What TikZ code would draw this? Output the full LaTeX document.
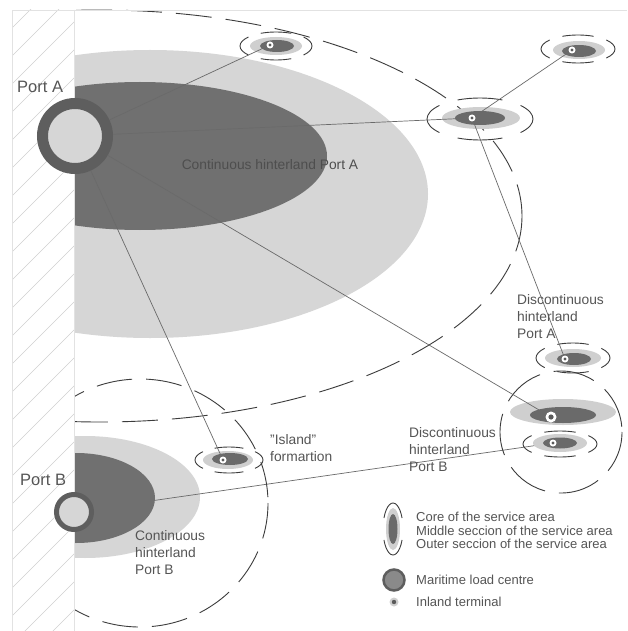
\documentclass[tikz,border=0pt]{standalone}
\usepackage{fontspec}
\setmainfont{Liberation Sans}
\usetikzlibrary{shapes.geometric}
\definecolor{lightfill}{HTML}{D6D6D6}
\definecolor{darkfill}{HTML}{707070}
\definecolor{ringcol}{HTML}{5E5E5E}
\definecolor{textcol}{HTML}{555555}
\definecolor{intext}{HTML}{4E4E4E}
\definecolor{dashcol}{HTML}{3C3C3C}
\definecolor{linecol}{HTML}{6A6A6A}
\definecolor{hatchcol}{HTML}{D0D0D0}
\definecolor{framecol}{HTML}{E2E2E2}
\definecolor{midfill}{HTML}{CFCFCF}
\definecolor{corefill}{HTML}{6A6A6A}
\definecolor{dotcol}{HTML}{5A5A5A}
\definecolor{legfill}{HTML}{8A8A8A}
\tikzset{
  dashline/.style={draw=dashcol, line width=0.9pt, dash pattern=on 36pt off 14pt},
  ringline/.style={draw=dashcol, line width=0.9pt},
  conn/.style={draw=linecol, line width=0.7pt},
  terminal/.style={circle, fill=white, inner sep=0pt, minimum size=7pt,
    path picture={\fill[dotcol] (path picture bounding box.center) circle (1.6pt);}},
  bigterminal/.style={circle, fill=white, inner sep=0pt, minimum size=11pt,
    path picture={\fill[dotcol] (path picture bounding box.center) circle (2.6pt);}},
  lbl/.style={text=textcol, inner sep=0pt, font=\fontsize{13.8}{17}\selectfont, align=left},
  portlbl/.style={text=textcol, inner sep=0pt, font=\fontsize{16.5}{19}\selectfont},
  leglbl/.style={text=textcol, inner sep=0pt, font=\fontsize{13}{13.5}\selectfont, align=left},
  hatchline/.style={draw=hatchcol, line width=0.6pt},
}
\newcommand{\ringarcs}[4]{%
  \draw[ringline] (#1,#2) ++(140:#3 and #4) arc[start angle=140,end angle=220,x radius=#3,y radius=#4];
  \draw[ringline] (#1,#2) ++(-40:#3 and #4) arc[start angle=-40,end angle=40,x radius=#3,y radius=#4];
  \draw[ringline] (#1,#2) ++(65:#3 and #4) arc[start angle=65,end angle=115,x radius=#3,y radius=#4];
  \draw[ringline] (#1,#2) ++(245:#3 and #4) arc[start angle=245,end angle=295,x radius=#3,y radius=#4];
}
\begin{document}
\begin{tikzpicture}[x=1pt,y=-1pt]
\useasboundingbox (0,0) rectangle (627,631);
\fill[white] (0,0) rectangle (627,631);
\coordinate (pbc) at (74,512);
\coordinate (t6c) at (553,443);
\begin{scope}
  \clip (74,0) rectangle (627,631);
  % Port A continuous hinterland
  \fill[lightfill] (150,194) ellipse [x radius=278, y radius=144];
  \fill[darkfill] (140,156) ellipse [x radius=187, y radius=74];
  % Port B continuous hinterland
  \fill[lightfill] (85,497) ellipse [x radius=115, y radius=61];
  \draw[conn] (pbc) -- (t6c);
  \fill[darkfill] (76,498) ellipse [x radius=79, y radius=45];
  % big dashed areas
  \draw[dashline] (100,216) ellipse [x radius=422, y radius=206];
  \draw[dashline] (140,503) ellipse [x radius=128, y radius=124];
\end{scope}
\draw[dashline, dash pattern=on 42pt off 14pt] (561,432) ellipse [x radius=61, y radius=61];
% coast strip
\begin{scope}
  \clip (12,10) rectangle (74,631);
  \foreach \k in {0,...,26} \draw[hatchline] (12,\k*28) -- ++(70,-70);
\end{scope}
\draw[framecol, line width=0.8pt] (12,631) -- (12,10) -- (627,10);
\draw[framecol, line width=0.8pt] (74,10) -- (74,631);
% service areas
\ringarcs{276}{46}{36}{14}
\fill[midfill] (276,46) ellipse [x radius=26, y radius=9];
\fill[corefill] (277,46) ellipse [x radius=17, y radius=6];
\ringarcs{578}{49}{37}{14}
\fill[midfill] (579,50) ellipse [x radius=26, y radius=9];
\fill[corefill] (579,51) ellipse [x radius=17, y radius=6];
\ringarcs{480}{119}{53}{21}
\fill[midfill] (481,118) ellipse [x radius=39, y radius=11];
\fill[corefill] (480,118) ellipse [x radius=25, y radius=7];
\ringarcs{573}{358}{37}{15}
\fill[midfill] (573,358) ellipse [x radius=28, y radius=9];
\fill[corefill] (574,359) ellipse [x radius=17, y radius=6];
\fill[midfill] (563,412) ellipse [x radius=53, y radius=13];
\fill[corefill] (563,415) ellipse [x radius=33, y radius=8];
\ringarcs{560}{444}{37}{13}
\fill[midfill] (560,443) ellipse [x radius=27, y radius=9];
\fill[corefill] (560,443) ellipse [x radius=17, y radius=5.5];
\ringarcs{229}{460}{34}{13}
\fill[midfill] (228,460) ellipse [x radius=25, y radius=9];
\fill[corefill] (230,459) ellipse [x radius=18, y radius=6];
% ports
\node[circle, draw=ringcol, line width=11pt, fill=lightfill, minimum size=65pt, inner sep=0pt] (pa) at (75,136) {};
\node[circle, draw=ringcol, line width=5pt, fill=lightfill, minimum size=35pt, inner sep=0pt] (pb) at (pbc) {};
% terminals
\node[terminal] (t1) at (270,45) {};
\node[terminal] (t2) at (572,50) {};
\node[terminal] (t3) at (472,118) {};
\node[terminal] (t4) at (565,359) {};
\node[bigterminal] (t5) at (551,417) {};
\node[terminal] (t6) at (t6c) {};
\node[terminal] (t7) at (223,460) {};
% connectors
\draw[conn] (pa) -- (t1);
\draw[conn] (pa) -- (t3);
\draw[conn] (pa) -- (t5);
\draw[conn] (pa) -- (t7);
\draw[conn] (t3) -- (t2);
\draw[conn] (t3) -- (t4);
% labels
\node[portlbl, anchor=west] (lpa) at (17,87) {Port A};
\node[portlbl, anchor=west] (lpb) at (20,480) {Port B};
\node[lbl, text=intext, anchor=center] (lca) at (270,165) {Continuous hinterland Port A};
\node[lbl, anchor=north west] (lcb) at (135,530) {Continuous\\hinterland\\Port B};
\node[lbl, anchor=north west] (lda) at (517,294) {Discontinuous\\hinterland\\Port A};
\node[lbl, anchor=north west] (ldb) at (409,427) {Discontinuous\\hinterland\\Port B};
\node[lbl, anchor=north west] (lis) at (270,434) {"Island"\\formartion};
% legend
\draw[ringline] (393,529) ++(25:10 and 26) arc[start angle=25,end angle=155,x radius=10,y radius=26];
\draw[ringline] (393,529) ++(205:10 and 26) arc[start angle=205,end angle=335,x radius=10,y radius=26];
\fill[midfill] (393,529) ellipse [x radius=7, y radius=21];
\node[ellipse, fill=corefill, minimum width=9pt, minimum height=30pt, inner sep=0pt] (lgc) at (393,529) {};
\node[leglbl, anchor=west] (lt1) at (416,517) {Core of the service area};
\node[leglbl, anchor=west] (lt2) at (416,531) {Middle seccion of the service area};
\node[leglbl, anchor=west] (lt3) at (416,544) {Outer seccion of the service area};
\node[circle, draw=ringcol, line width=2.5pt, fill=legfill, minimum size=21pt, inner sep=0pt] (lgm) at (394,580) {};
\node[leglbl, anchor=west] (lt4) at (416,580) {Maritime load centre};
\node[circle, fill=midfill, minimum size=9pt, inner sep=0pt,
  path picture={\fill[dotcol] (path picture bounding box.center) circle (2.2pt);}] (lgi) at (394,602) {};
\node[leglbl, anchor=west] (lt5) at (416,602) {Inland terminal};
\end{tikzpicture}
\end{document}
